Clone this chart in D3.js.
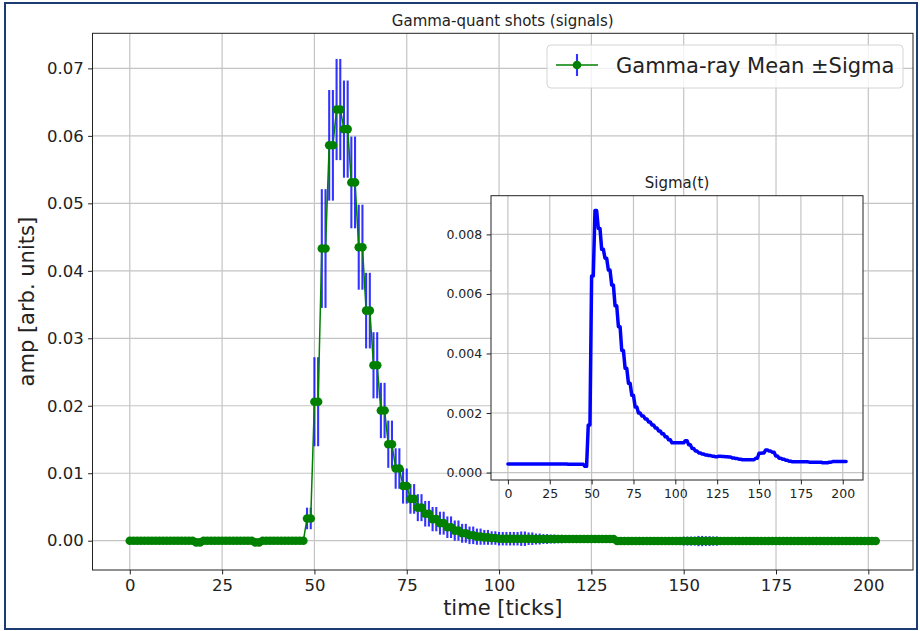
<!DOCTYPE html>
<html>
<head>
<meta charset="utf-8">
<script src="https://cdn.jsdelivr.net/npm/d3@7"></script>
<style>
  body { margin: 0; background: #fff; }
  svg text { font-family: "DejaVu Sans", sans-serif; fill: #222; }
</style>
</head>
<body>
<div id="wrapper"></div>
<script>
// mean amplitude per tick, t = 0..202
const meanAmp = [
  0, 0, 0, 0, 0, 0, 0, 0, 0, 0,
  0, 0, 0, 0, 0, 0, 0, 0, -0.00025, -0.00025,
  0, 0, 0, 0, 0, 0, 0, 0, 0, 0,
  0, 0, 0, 0, -0.00025, -0.00025, 0, 0, 0, 0,
  0, 0, 0, 0, 0, 0, 0, 0, 0.0033, 0.0033,
  0.0206, 0.0206, 0.0433, 0.0433, 0.0586, 0.0586, 0.0639, 0.0639, 0.0610, 0.0610,
  0.0531, 0.0531, 0.0435, 0.0435, 0.0341, 0.0341, 0.0260, 0.0260, 0.0193, 0.0193,
  0.0143, 0.0143, 0.0107, 0.0107, 0.0081, 0.0081, 0.0062, 0.0062, 0.0049, 0.0049,
  0.0040, 0.0040, 0.0032, 0.0032, 0.0026, 0.0026, 0.0020, 0.0020, 0.0015, 0.0015,
  0.0011, 0.0011, 0.0008, 0.0008, 0.0006, 0.0006, 0.0005, 0.0005, 0.0004, 0.0004,
  0.0003, 0.0003, 0.0003, 0.0003, 0.0003, 0.0003, 0.0003, 0.0003, 0.0003, 0.0003,
  0.00025, 0.00025, 0.00025, 0.00025, 0.00025, 0.00025, 0.00025, 0.00025, 0.00025, 0.00025,
  0.00025, 0.00025, 0.00025, 0.00025, 0.00025, 0.00025, 0.00025, 0.00025, 0.00025, 0.00025,
  0.00025, 0.00025, -0.00005, -0.00005, -0.00005, -0.00005, -0.00005, -0.00005, -0.00005, -0.00005,
  -0.00005, -0.00005, -0.00005, -0.00005, -0.00005, -0.00005, -0.00005, -0.00005, -0.00005, -0.00005,
  -0.00005, -0.00005, -0.00005, -0.00005, -0.00005, -0.00005, -0.00005, -0.00005, -0.00005, -0.00005,
  -0.00005, -0.00005, -0.00005, -0.00005, -0.00005, -0.00005, -0.00005, -0.00005, -0.00005, -0.00005,
  -0.00005, -0.00005, -0.00005, -0.00005, -0.00005, -0.00005, -0.00005, -0.00005, -0.00005, -0.00005,
  -0.00005, -0.00005, -0.00005, -0.00005, -0.00005, -0.00005, -0.00005, -0.00005, -0.00005, -0.00005,
  -0.00005, -0.00005, -0.00005, -0.00005, -0.00005, -0.00005, -0.00005, -0.00005, -0.00005, -0.00005,
  -0.00005, -0.00005, -0.00005
]

// sigma per tick, t = 0..202
const sigmaAmp = [
  0.00029, 0.00029, 0.00029, 0.00029, 0.00029, 0.00029, 0.00029, 0.00029, 0.00029, 0.00029,
  0.00029, 0.00029, 0.00029, 0.00029, 0.00029, 0.00029, 0.00029, 0.00029, 0.00029, 0.00029,
  0.00029, 0.00029, 0.00029, 0.00029, 0.00029, 0.00029, 0.00029, 0.00029, 0.00029, 0.00029,
  0.00029, 0.00029, 0.00029, 0.00029, 0.00029, 0.00029, 0.00028, 0.00028, 0.00028, 0.00028,
  0.00028, 0.00028, 0.00028, 0.00028, 0.00028, 0.00028, 0.00021, 0.00021, 0.0016, 0.0016,
  0.0066, 0.0066, 0.0088, 0.0088, 0.0082, 0.0082, 0.0075, 0.0075, 0.0072, 0.0072,
  0.0068, 0.0068, 0.0063, 0.0063, 0.0056, 0.0056, 0.0049, 0.0049, 0.0041, 0.0041,
  0.0035, 0.0035, 0.0030, 0.0030, 0.0026, 0.0026, 0.0022, 0.0022, 0.0020, 0.0020,
  0.0019, 0.0019, 0.0018, 0.0018, 0.0017, 0.0017, 0.0016, 0.0016, 0.0015, 0.0015,
  0.0014, 0.0014, 0.0013, 0.0013, 0.0012, 0.0012, 0.0011, 0.0011, 0.0010, 0.0010,
  0.0010, 0.0010, 0.0010, 0.0010, 0.0010, 0.0010, 0.00107, 0.00107, 0.00093, 0.00093,
  0.00081, 0.00081, 0.00072, 0.00072, 0.00066, 0.00066, 0.00062, 0.00062, 0.00059, 0.00059,
  0.00057, 0.00057, 0.00055, 0.00055, 0.00053, 0.00053, 0.00055, 0.00055, 0.00054, 0.00054,
  0.00053, 0.00053, 0.00052, 0.00052, 0.00049, 0.00049, 0.00047, 0.00047, 0.00045, 0.00045,
  0.00043, 0.00043, 0.00043, 0.00043, 0.00043, 0.00043, 0.00043, 0.00043, 0.00048, 0.00048,
  0.00065, 0.00065, 0.00066, 0.00066, 0.00076, 0.00076, 0.00072, 0.00072, 0.00068, 0.00068,
  0.00056, 0.00056, 0.00048, 0.00048, 0.00045, 0.00045, 0.00041, 0.00041, 0.00038, 0.00038,
  0.00036, 0.00036, 0.00036, 0.00036, 0.00036, 0.00036, 0.00036, 0.00036, 0.00036, 0.00036,
  0.00035, 0.00035, 0.00035, 0.00035, 0.00035, 0.00035, 0.00035, 0.00035, 0.00033, 0.00033,
  0.00033, 0.00033, 0.00035, 0.00035, 0.00037, 0.00037, 0.00037, 0.00037, 0.00037, 0.00037,
  0.00037, 0.00037, 0.00037
]

const timeTicks = [0, 25, 50, 75, 100, 125, 150, 175, 200]
const ampTicks = [0, 0.01, 0.02, 0.03, 0.04, 0.05, 0.06, 0.07]
const sigmaTicks = [0, 0.002, 0.004, 0.006, 0.008]

function drawChart() {

  // 1. Data

  const dataset = meanAmp.map((m, i) => ({ t: i, mean: m, sigma: sigmaAmp[i] }))
  const xAccessor = d => d.t

  // 2. Dimensions

  const dimensions = { width: 920, height: 631 }
  const main = { left: 92.5, right: 913, top: 33.3, bottom: 570 }
  const inset = { left: 491, right: 863, top: 195.7, bottom: 480 }

  // 3. Canvas

  const wrapper = d3.select("#wrapper")
    .append("svg")
    .attr("width", dimensions.width)
    .attr("height", dimensions.height)

  wrapper.append("rect")
    .attr("x", 5).attr("y", 3)
    .attr("width", 912).attr("height", 626)
    .attr("fill", "white")
    .attr("stroke", "#1d3b73")
    .attr("stroke-width", 2)

  // 4. Scales

  const xScale = d3.scaleLinear()
    .domain([-10.1, 212.1])
    .range([main.left, main.right])

  const yScale = d3.scaleLinear()
    .domain([-0.00434, 0.0752])
    .range([main.bottom, main.top])

  const xInset = d3.scaleLinear()
    .domain([-10.1, 212.1])
    .range([inset.left, inset.right])

  const yInset = d3.scaleLinear()
    .domain([-0.00025, 0.0093])
    .range([inset.bottom, inset.top])

  // helpers for grid + axes in matplotlib look
  function drawGrid(g, xs, ys, xt, yt, box) {
    g.append("g").selectAll("line").data(xt).join("line")
      .attr("x1", d => xs(d)).attr("x2", d => xs(d))
      .attr("y1", box.top).attr("y2", box.bottom)
      .attr("stroke", "#c4c4c4").attr("stroke-width", 1.2)
    g.append("g").selectAll("line").data(yt).join("line")
      .attr("y1", d => ys(d)).attr("y2", d => ys(d))
      .attr("x1", box.left).attr("x2", box.right)
      .attr("stroke", "#c4c4c4").attr("stroke-width", 1.2)
  }

  function drawAxes(g, xs, ys, xt, yt, box, fmt, fontSize) {
    const xAxisGen = d3.axisBottom(xs).tickValues(xt).tickSize(4.4).tickPadding(4.4).tickSizeOuter(0)
    const yAxisGen = d3.axisLeft(ys).tickValues(yt).tickSize(4.4).tickPadding(4.4).tickSizeOuter(0).tickFormat(fmt)
    const ax = g.append("g").attr("transform", `translate(0,${box.bottom})`).call(xAxisGen)
    const ay = g.append("g").attr("transform", `translate(${box.left},0)`).call(yAxisGen)
    for (const a of [ax, ay]) {
      a.attr("font-size", fontSize).attr("font-family", "DejaVu Sans").attr("color", "#222")
      a.select(".domain").remove()
    }
    g.append("rect")
      .attr("x", box.left).attr("y", box.top)
      .attr("width", box.right - box.left).attr("height", box.bottom - box.top)
      .attr("fill", "none").attr("stroke", "#222").attr("stroke-width", 1)
  }

  // 5. Main axes

  const bounds = wrapper.append("g")
  drawGrid(bounds, xScale, yScale, timeTicks, ampTicks, main)

  bounds.append("g").selectAll("line")
    .data(dataset)
    .join("line")
    .attr("x1", d => xScale(xAccessor(d))).attr("x2", d => xScale(xAccessor(d)))
    .attr("y1", d => yScale(d.mean - d.sigma))
    .attr("y2", d => yScale(d.mean + d.sigma))
    .attr("stroke", "blue")
    .attr("stroke-opacity", 0.8)
    .attr("stroke-width", 2.1)

  const meanLine = d3.line()
    .x(d => xScale(xAccessor(d)))
    .y(d => yScale(d.mean))

  bounds.append("path")
    .datum(dataset)
    .attr("d", meanLine)
    .attr("fill", "none")
    .attr("stroke", "green")
    .attr("stroke-width", 1.5)

  bounds.append("g").selectAll("circle")
    .data(dataset)
    .join("circle")
    .attr("cx", d => xScale(xAccessor(d)))
    .attr("cy", d => yScale(d.mean))
    .attr("r", 4.3)
    .attr("fill", "green")

  drawAxes(bounds, xScale, yScale, timeTicks, ampTicks, main, d3.format(".2f"), 16.5)

  wrapper.append("text")
    .attr("x", (main.left + main.right) / 2)
    .attr("y", 25.5)
    .attr("text-anchor", "middle")
    .style("font-size", "15px")
    .text("Gamma-quant shots (signals)")

  wrapper.append("text")
    .attr("x", (main.left + main.right) / 2)
    .attr("y", 615)
    .attr("text-anchor", "middle")
    .style("font-size", "21px")
    .text("time [ticks]")

  wrapper.append("text")
    .attr("transform", `translate(34,${(main.top + main.bottom) / 2}) rotate(-90)`)
    .attr("text-anchor", "middle")
    .style("font-size", "21px")
    .text("amp [arb. units]")

  // legend
  const legend = wrapper.append("g")
  legend.append("rect")
    .attr("x", 547).attr("y", 45)
    .attr("width", 356).attr("height", 43)
    .attr("rx", 4)
    .attr("fill", "white").attr("fill-opacity", 0.8)
    .attr("stroke", "#d4d4d4")
  legend.append("line")
    .attr("x1", 556).attr("x2", 598).attr("y1", 65).attr("y2", 65)
    .attr("stroke", "green").attr("stroke-width", 1.5)
  legend.append("line")
    .attr("x1", 577).attr("x2", 577).attr("y1", 54).attr("y2", 76)
    .attr("stroke", "blue").attr("stroke-opacity", 0.8).attr("stroke-width", 2.1)
  legend.append("circle")
    .attr("cx", 577).attr("cy", 65).attr("r", 4.3).attr("fill", "green")
  legend.append("text")
    .attr("x", 616).attr("y", 73)
    .style("font-size", "21px")
    .text("Gamma-ray Mean \u00b1Sigma")

  // 6. Inset: Sigma(t)

  const insetG = wrapper.append("g")
  insetG.append("rect")
    .attr("x", inset.left).attr("y", inset.top)
    .attr("width", inset.right - inset.left).attr("height", inset.bottom - inset.top)
    .attr("fill", "white")
  drawGrid(insetG, xInset, yInset, timeTicks, sigmaTicks, inset)

  const sigmaLine = d3.line()
    .x(d => xInset(xAccessor(d)))
    .y(d => yInset(d.sigma))

  insetG.append("path")
    .datum(dataset)
    .attr("d", sigmaLine)
    .attr("fill", "none")
    .attr("stroke", "blue")
    .attr("stroke-width", 3.5)
    .attr("stroke-linejoin", "round")
    .attr("stroke-linecap", "round")

  drawAxes(insetG, xInset, yInset, timeTicks, sigmaTicks, inset, d3.format(".3f"), 12.5)

  insetG.append("text")
    .attr("x", (inset.left + inset.right) / 2)
    .attr("y", 188)
    .attr("text-anchor", "middle")
    .style("font-size", "15px")
    .text("Sigma(t)")
}
drawChart()
</script>
</body>
</html>
